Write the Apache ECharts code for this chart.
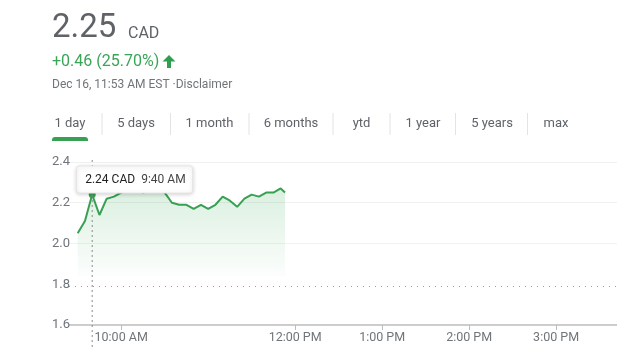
<!DOCTYPE html>
<html>
<head>
<meta charset="utf-8">
<script src="https://cdn.jsdelivr.net/npm/echarts@6/dist/echarts.min.js"></script>
<style>
  html, body { margin: 0; padding: 0; background: #fff; }
  #chart { width: 617px; height: 362px; }
</style>
</head>
<body>
<div id="chart"></div>
<script>
// ---- data ----
const times = ['9:30','9:35','9:40','9:45','9:50','9:55','10:00','10:05','10:10','10:15',
               '10:20','10:25','10:30','10:35','10:40','10:45','10:50','10:55','11:00','11:05',
               '11:10','11:15','11:20','11:25','11:30','11:35','11:40','11:45','11:50','11:53'];
const prices = [2.05, 2.11, 2.24, 2.14, 2.22, 2.23, 2.25, 2.26, 2.27, 2.25,
                2.26, 2.27, 2.25, 2.20, 2.19, 2.19, 2.17, 2.19, 2.17, 2.19,
                2.23, 2.21, 2.18, 2.22, 2.24, 2.23, 2.25, 2.25, 2.27, 2.25];
const prevClose = 1.79;
const yTicks = [1.6, 1.8, 2.0, 2.2, 2.4];
const xTickTimes = ['10:00', '12:00', '13:00', '14:00', '15:00'];
const xTickLabels = ['10:00 AM', '12:00 PM', '1:00 PM', '2:00 PM', '3:00 PM'];
const tabs = ['1 day', '5 days', '1 month', '6 months', 'ytd', '1 year', '5 years', 'max'];
const tipTime = '9:40';
const tipPrice = 2.24;
const tipTimeLabel = '9:40 AM';
const priceText = '2.25';
const currency = 'CAD';
const changeText = '+0.46 (25.70%)';
const dateText = 'Dec 16, 11:53 AM EST ·Disclaimer';

// ---- helpers ----
const toMin = t => { const [h, m] = t.split(':').map(Number); return h * 60 + m - 570; };
const seriesData = times.map((t, i) => [toMin(t), prices[i]]);
const xTickVals = xTickTimes.map(toMin);
const GREEN = '#38a052';
const FONT = 'Roboto, Arial, sans-serif';

const chart = echarts.init(document.getElementById('chart'), null, { renderer: 'canvas' });

const tabX = [70, 136, 209.5, 291, 361.5, 423, 492, 556];
const sepX = [102, 170.5, 249, 333, 390, 455.5, 527.5];

const headerGraphics = [
  { type: 'text', left: 52, top: 12, style: { text: priceText, font: '33px ' + FONT, fill: '#5f6368' } },
  { type: 'text', x: 128, y: 34, style: { text: currency, font: '16px ' + FONT, fill: '#5f6368', verticalAlign: 'middle' } },
  { type: 'text', x: 52, y: 62, style: { text: changeText, font: '16px ' + FONT, fill: '#3aa457', verticalAlign: 'middle' } },
  { type: 'polygon', shape: { points: [[169, 55], [175.5, 61.5], [171, 61.5], [171, 68], [167, 68], [167, 61.5], [162.5, 61.5]] }, style: { fill: '#2f9e4f' } },
  { type: 'text', x: 52, y: 85, style: { text: dateText, font: '12px ' + FONT, fill: '#70757a', verticalAlign: 'middle' } },
  { type: 'rect', shape: { x: 52, y: 137, width: 36, height: 4, r: [3, 3, 0, 0] }, style: { fill: GREEN } }
];
tabs.forEach((t, i) => {
  headerGraphics.push({ type: 'text', x: tabX[i], y: 124, style: { text: t, font: '13px ' + FONT, fill: '#5f6368', align: 'center', verticalAlign: 'middle' } });
});
sepX.forEach(x => {
  headerGraphics.push({ type: 'line', shape: { x1: x, y1: 113, x2: x, y2: 135 }, style: { stroke: '#e3e3e3', lineWidth: 1 } });
});

chart.setOption({
  animation: false,
  grid: { left: 69, right: 0, top: 162, bottom: 37, containLabel: false },
  xAxis: {
    type: 'value', min: -6, max: 372,
    axisLine: { show: true, lineStyle: { color: '#bdbdbd', width: 1.5 } },
    axisTick: { show: true, customValues: xTickVals, length: 5, lineStyle: { color: '#bdbdbd', width: 1 } },
    axisLabel: {
      customValues: xTickVals, color: '#70757a', fontSize: 12.5, fontFamily: FONT, margin: 6,
      formatter: v => xTickLabels[xTickVals.indexOf(v)] || ''
    },
    splitLine: { show: false }
  },
  yAxis: {
    type: 'value', min: yTicks[0], max: yTicks[yTicks.length - 1], interval: 0.2,
    axisLine: { show: false }, axisTick: { show: false },
    axisLabel: { color: '#70757a', fontSize: 13, fontFamily: FONT, margin: -1, formatter: v => v.toFixed(1) },
    splitLine: { show: true, lineStyle: { color: ['transparent', 'transparent', '#f1f1f1', '#f1f1f1', '#f1f1f1'], width: 1 } }
  },
  series: [{
    type: 'line',
    data: seriesData,
    showSymbol: false,
    lineStyle: { color: GREEN, width: 2 },
    itemStyle: { color: GREEN },
    areaStyle: {
      origin: 1.84,
      color: new echarts.graphic.LinearGradient(0, 0, 0, 1, [
        { offset: 0, color: 'rgba(52,168,83,0.26)' },
        { offset: 1, color: 'rgba(52,168,83,0.02)' }
      ])
    },
    markLine: {
      silent: true, symbol: 'none', label: { show: false },
      lineStyle: { color: '#9e9e9e', type: [1, 5], width: 1 },
      data: [{ yAxis: prevClose }]
    },
    markPoint: {
      silent: true, symbol: 'circle', symbolSize: 7, label: { show: false },
      itemStyle: { color: GREEN },
      data: [{ coord: [toMin(tipTime), tipPrice] }]
    }
  }],
  graphic: headerGraphics
});

// tooltip-like overlay positioned via the chart's scales
const p = chart.convertToPixel({ gridIndex: 0 }, [toMin(tipTime), tipPrice]);
const tipGraphics = headerGraphics.slice();
tipGraphics.push(
  { type: 'line', z: 50, shape: { x1: p[0], y1: 160, x2: p[0], y2: 347 }, style: { stroke: '#8a8a8a', lineWidth: 1, lineDash: [2, 3] } },
  { type: 'rect', z: 60, shape: { x: p[0] - 15.5, y: 166, width: 116, height: 27, r: 3 },
    style: { fill: '#fff', stroke: '#e6e6e6', lineWidth: 1, shadowBlur: 4, shadowColor: 'rgba(0,0,0,0.18)', shadowOffsetY: 1 } },
  { type: 'text', z: 61, x: p[0] - 7, y: 179.5, style: { text: tipPrice.toFixed(2) + ' ' + currency, font: '12px ' + FONT, fill: '#222', verticalAlign: 'middle' } },
  { type: 'text', z: 61, x: p[0] + 49, y: 179.5, style: { text: tipTimeLabel, font: '12px ' + FONT, fill: '#444', verticalAlign: 'middle' } }
);
chart.setOption({ graphic: tipGraphics }, { replaceMerge: ['graphic'] });
</script>
</body>
</html>
